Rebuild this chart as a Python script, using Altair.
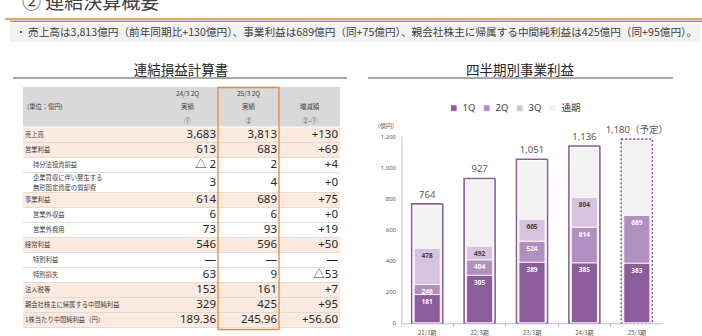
import altair as alt
import pandas as pd
import numpy as np

# ---------------- data ----------------
page_title = "② 連結決算概要"
summary_text = "売上高は3,813億円（前年同期比+130億円）、事業利益は689億円（同+75億円）、親会社株主に帰属する中間純利益は425億円（同+95億円）。"
table_title = "連結損益計算書"
chart_title = "四半期別事業利益"
unit_label = "(単位：億円)"

row_labels = ["売上高", "営業利益", "持分法投資損益", "企業買収に伴い発生する\n無形固定資産の償却費",
              "事業利益", "営業外収益", "営業外費用", "経常利益", "特別利益", "特別損失",
              "法人税等", "親会社株主に帰属する中間純利益", "1株当たり中間純利益（円）"]
row_level = ["main", "main", "sub", "sub", "main", "sub", "sub", "main", "sub", "sub",
             "main", "main", "main"]
prev_vals = ["3,683", "613", "△ 2", "3", "614", "6", "73", "546", "—", "63", "153", "329", "189.36"]
curr_vals = ["3,813", "683", "2", "4", "689", "6", "93", "596", "—", "9", "161", "425", "245.96"]
diff_vals = ["+130", "+69", "+4", "+0", "+75", "+0", "+19", "+50", "—", "△53", "+7", "+95", "+56.60"]

col_keys = ["prev", "curr", "diff"]
col_line1 = ["24/3 2Q", "25/3 2Q", ""]
col_line2 = ["実績", "実績", "増減額"]
col_line3 = ["①", "②", "②-①"]

periods = ["21/3期", "22/3期", "23/3期", "24/3期", "25/3期"]
cum_1q = [181, 305, 389, 385, 383]
cum_2q = [246, 404, 524, 614, 689]
cum_3q = [478, 492, 665, 804, None]
full_year = [764, 927, 1051, 1136, 1180]
full_year_text = ["764", "927", "1,051", "1,136", "1,180（予定）"]
full_year_kind = ["実績", "実績", "実績", "実績", "予定"]
series = ["1Q", "2Q", "3Q", "通期"]
series_colors = ["#8d5c9c", "#b18fc1", "#d6c4de", "#f2f2f2"]

# ---------------- layout constants ----------------
W, H = 702, 336
FONT = "Noto Sans, Noto Sans CJK JP, sans-serif"
JP = "Noto Sans CJK JP, Noto Sans, sans-serif"
DARK = "#404040"
row_heights = [15, 15, 15, 20, 15, 15, 15, 15, 15, 15, 15, 15, 15]

dummy = pd.DataFrame({"k": [0]})


def txt(text, x, y, size, color=DARK, align="left", baseline="middle", font=JP, weight="normal"):
    return alt.Chart(pd.DataFrame({"t": [text]})).mark_text(
        align=align, baseline=baseline, fontSize=size, font=font, color=color, fontWeight=weight
    ).encode(x=alt.value(x), y=alt.value(y), text="t:N")


def hrule(x1, x2, y, color, width):
    return alt.Chart(dummy).mark_rule(color=color, strokeWidth=width).encode(
        x=alt.value(x1), x2=alt.value(x2), y=alt.value(y))


def box(x1, x2, y1, y2, **props):
    return alt.Chart(dummy).mark_rect(**props).encode(
        x=alt.value(x1), x2=alt.value(x2), y=alt.value(y1), y2=alt.value(y2))


# ---------------- header decorations ----------------
decor = [
    txt(page_title, 22, 9, 19, color=DARK, baseline="alphabetic"),
    hrule(5, 702, 19, "#e3a75e", 2),
    hrule(10, 702, 21.2, "#6f4f8c", 1),
    box(10, 700, 23, 42, fill="#f2f2f2"),
    txt("・", 16, 33, 10, color=DARK),
    txt(summary_text, 28, 33, 10.65, color=DARK),
    txt(table_title, 181, 71, 13.5, color="#262626", align="center"),
    hrule(13, 347, 78, "#8c8c8c", 1.5),
    txt(chart_title, 520, 71, 13.5, color="#262626", align="center"),
    hrule(368, 673, 78, "#8c8c8c", 1.5),
]

# ---------------- table ----------------
tops = np.concatenate([[0], np.cumsum(row_heights)[:-1]])
bottoms = tops + np.array(row_heights)
rows_df = pd.DataFrame({
    "label": row_labels, "level": row_level,
    "top": tops, "bottom": bottoms, "mid": (tops + bottoms) / 2,
    "lines": [lab.count("\n") + 1 for lab in row_labels],
})
cells = []
for i, lab in enumerate(row_labels):
    for key, vals in zip(col_keys, [prev_vals, curr_vals, diff_vals]):
        cells.append({"label": lab, "mid": rows_df.loc[i, "mid"], "col": key, "val": vals[i]})
cells_df = pd.DataFrame(cells)
head_df = pd.DataFrame({"col": col_keys, "l1": col_line1, "l2": col_line2, "l3": col_line3})

xs_tab = alt.Scale(domain=col_keys, range=[157, 340], paddingInner=0, paddingOuter=0)
ys_tab = alt.Scale(domain=[0, sum(row_heights)], range=[127.5, 127.5 + sum(row_heights)], nice=False, zero=False)

base_rows = alt.Chart(rows_df)
row_bg = base_rows.mark_rect(fill="#fbeae0").encode(
    x=alt.value(23), x2=alt.value(340),
    y=alt.Y("top:Q", scale=ys_tab, axis=None), y2="bottom:Q",
).transform_filter(alt.datum.level == "main")
row_lines = base_rows.mark_rule(color="#d6d0cc", strokeWidth=0.7).encode(
    x=alt.value(23), x2=alt.value(340),
    y=alt.Y("bottom:Q", scale=ys_tab, axis=None),
)
lab_main = base_rows.mark_text(align="left", baseline="middle", fontSize=6.3, font=JP, color=DARK).encode(
    x=alt.value(25), y=alt.Y("mid:Q", scale=ys_tab, axis=None), text="label:N"
).transform_filter(alt.datum.level == "main")
lab_sub = base_rows.mark_text(align="left", baseline="middle", fontSize=6.3, font=JP, color=DARK).encode(
    x=alt.value(33), y=alt.Y("mid:Q", scale=ys_tab, axis=None), text="label:N"
).transform_filter((alt.datum.level == "sub") & (alt.datum.lines == 1))
lab_sub2 = base_rows.mark_text(align="left", baseline="middle", fontSize=6.3, font=JP, color=DARK,
                               lineBreak="\n", lineHeight=10, dy=-5).encode(
    x=alt.value(33), y=alt.Y("mid:Q", scale=ys_tab, axis=None), text="label:N"
).transform_filter((alt.datum.level == "sub") & (alt.datum.lines == 2))

values = alt.Chart(cells_df).mark_text(align="right", baseline="middle", fontSize=11.5, font=FONT,
                                       color="#262626", dx=-2).encode(
    x=alt.X("col:N", scale=xs_tab, axis=None, bandPosition=1),
    y=alt.Y("mid:Q", scale=ys_tab, axis=None),
    text="val:N",
)

header_bg = box(23, 340, 87, 126.5, fill="#d9d9d9")
header_unit = txt(unit_label, 27, 107, 6.3, color=DARK)
hb = alt.Chart(head_df)
head_texts = [
    hb.mark_text(align="center", baseline="middle", fontSize=6.5, font=JP, color=DARK).encode(
        x=alt.X("col:N", scale=xs_tab, axis=None, bandPosition=0.5), y=alt.value(yy), text=f"{fld}:N")
    for fld, yy in [("l1", 93.5), ("l2", 107), ("l3", 121)]
]
orange_box = hb.mark_rect(fill=None, stroke="#e38740", strokeWidth=1.3).encode(
    x=alt.X("col:N", scale=xs_tab, axis=None), y=alt.value(87.5), y2=alt.value(329.5)
).transform_filter(alt.datum.col == "curr")

table = alt.layer(header_bg, row_bg, row_lines, header_unit, *head_texts,
                  lab_main, lab_sub, lab_sub2, values, orange_box)

# ---------------- stacked bar chart ----------------
frame_df = pd.DataFrame({"period": periods, "full": full_year, "text": full_year_text,
                         "kind": full_year_kind, "series": "通期"})
seg = []
for i, p in enumerate(periods):
    prev = 0
    for s, arr in zip(series[:3], [cum_1q, cum_2q, cum_3q]):
        v = arr[i]
        if v is None:
            continue
        seg.append({"period": p, "series": s, "start": prev, "end": v, "label": f"{v:,}"})
        prev = v
seg_df = pd.DataFrame(seg)

xs_bar = alt.Scale(domain=periods, range=[401, 663], paddingInner=0, paddingOuter=0)
ys_bar = alt.Scale(domain=[0, 1200], range=[322.7, 136], nice=False, zero=True)
fill_scale = alt.Scale(domain=series, range=series_colors)

x_enc = alt.X("period:N", scale=xs_bar, sort=periods, axis=alt.Axis(
    orient="bottom", offset=-12.7, title=None, labelAngle=0, labelFontSize=6, labelFont=JP,
    labelColor="#595959", labelPadding=3, tickSize=3, tickColor="#bfbfbf", domainColor="#bfbfbf",
    bandPosition=0, grid=False))

frame = alt.Chart(frame_df).mark_bar(width=31, stroke="#8b5e98", strokeWidth=1.6).encode(
    x=x_enc,
    y=alt.Y("full:Q", scale=ys_bar, axis=alt.Axis(
        orient="left", offset=-401.5, title="(億円)", titleAngle=0, titleFontSize=6, titleFont=JP,
        titleColor="#595959", titleFontWeight="normal", titleX=-24, titleY=125, titleAlign="left",
        titleBaseline="middle", values=[0, 200, 400, 600, 800, 1000, 1200], format=",d",
        labelFontSize=6, labelFont=FONT, labelColor="#595959", labelPadding=6, ticks=False,
        domainColor="#bfbfbf", grid=False)),
    y2=alt.datum(0),
    fill=alt.Fill("series:N", scale=fill_scale, legend=alt.Legend(
        title=None, orient="none", legendX=449, legendY=103, direction="horizontal",
        symbolType="square", symbolSize=40, symbolStrokeColor="#a6a6a6", symbolStrokeWidth=0.6,
        labelFontSize=9.5, labelFont=FONT, labelColor=DARK, labelOffset=4, columnPadding=6)),
    strokeDash=alt.StrokeDash("kind:N", scale=alt.Scale(domain=["実績", "予定"], range=[[1, 0], [2, 2]]),
                              legend=None),
)
inner_gap = alt.Chart(frame_df).mark_bar(width=28, fill=None, stroke="white", strokeWidth=0.9,
                                         yOffset=1.6).encode(
    x=alt.X("period:N", scale=xs_bar, sort=periods),
    y=alt.Y("full:Q", scale=ys_bar), y2=alt.datum(0),
)
totals = alt.Chart(frame_df).mark_text(baseline="bottom", dy=-4, fontSize=9.5, font=FONT,
                                       color="#595959").encode(
    x=alt.X("period:N", scale=xs_bar, sort=periods), y=alt.Y("full:Q", scale=ys_bar), text="text:N")
segments = alt.Chart(seg_df).mark_bar(width=26, stroke="white", strokeWidth=0.8).encode(
    x=alt.X("period:N", scale=xs_bar, sort=periods),
    y=alt.Y("end:Q", scale=ys_bar), y2="start:Q",
    fill=alt.Fill("series:N", scale=fill_scale),
)
seg_labels = alt.Chart(seg_df).mark_text(baseline="middle", dy=7.5, fontSize=6.5, font=FONT,
                                         fontWeight="bold").encode(
    x=alt.X("period:N", scale=xs_bar, sort=periods),
    y=alt.Y("end:Q", scale=ys_bar), text="label:N",
    color=alt.condition(alt.datum.series == "3Q", alt.value("#404040"), alt.value("white")),
)
bars = alt.layer(frame, inner_gap, segments, seg_labels, totals)

chart = alt.layer(*decor, table, bars).resolve_scale(
    x="independent", y="independent"
).properties(
    width=W, height=H, autosize=alt.AutoSizeParams(type="none"), padding=0, background="white"
).configure_view(stroke=None)

chart.save("out.html", embed_options={"renderer": "svg", "actions": False})
